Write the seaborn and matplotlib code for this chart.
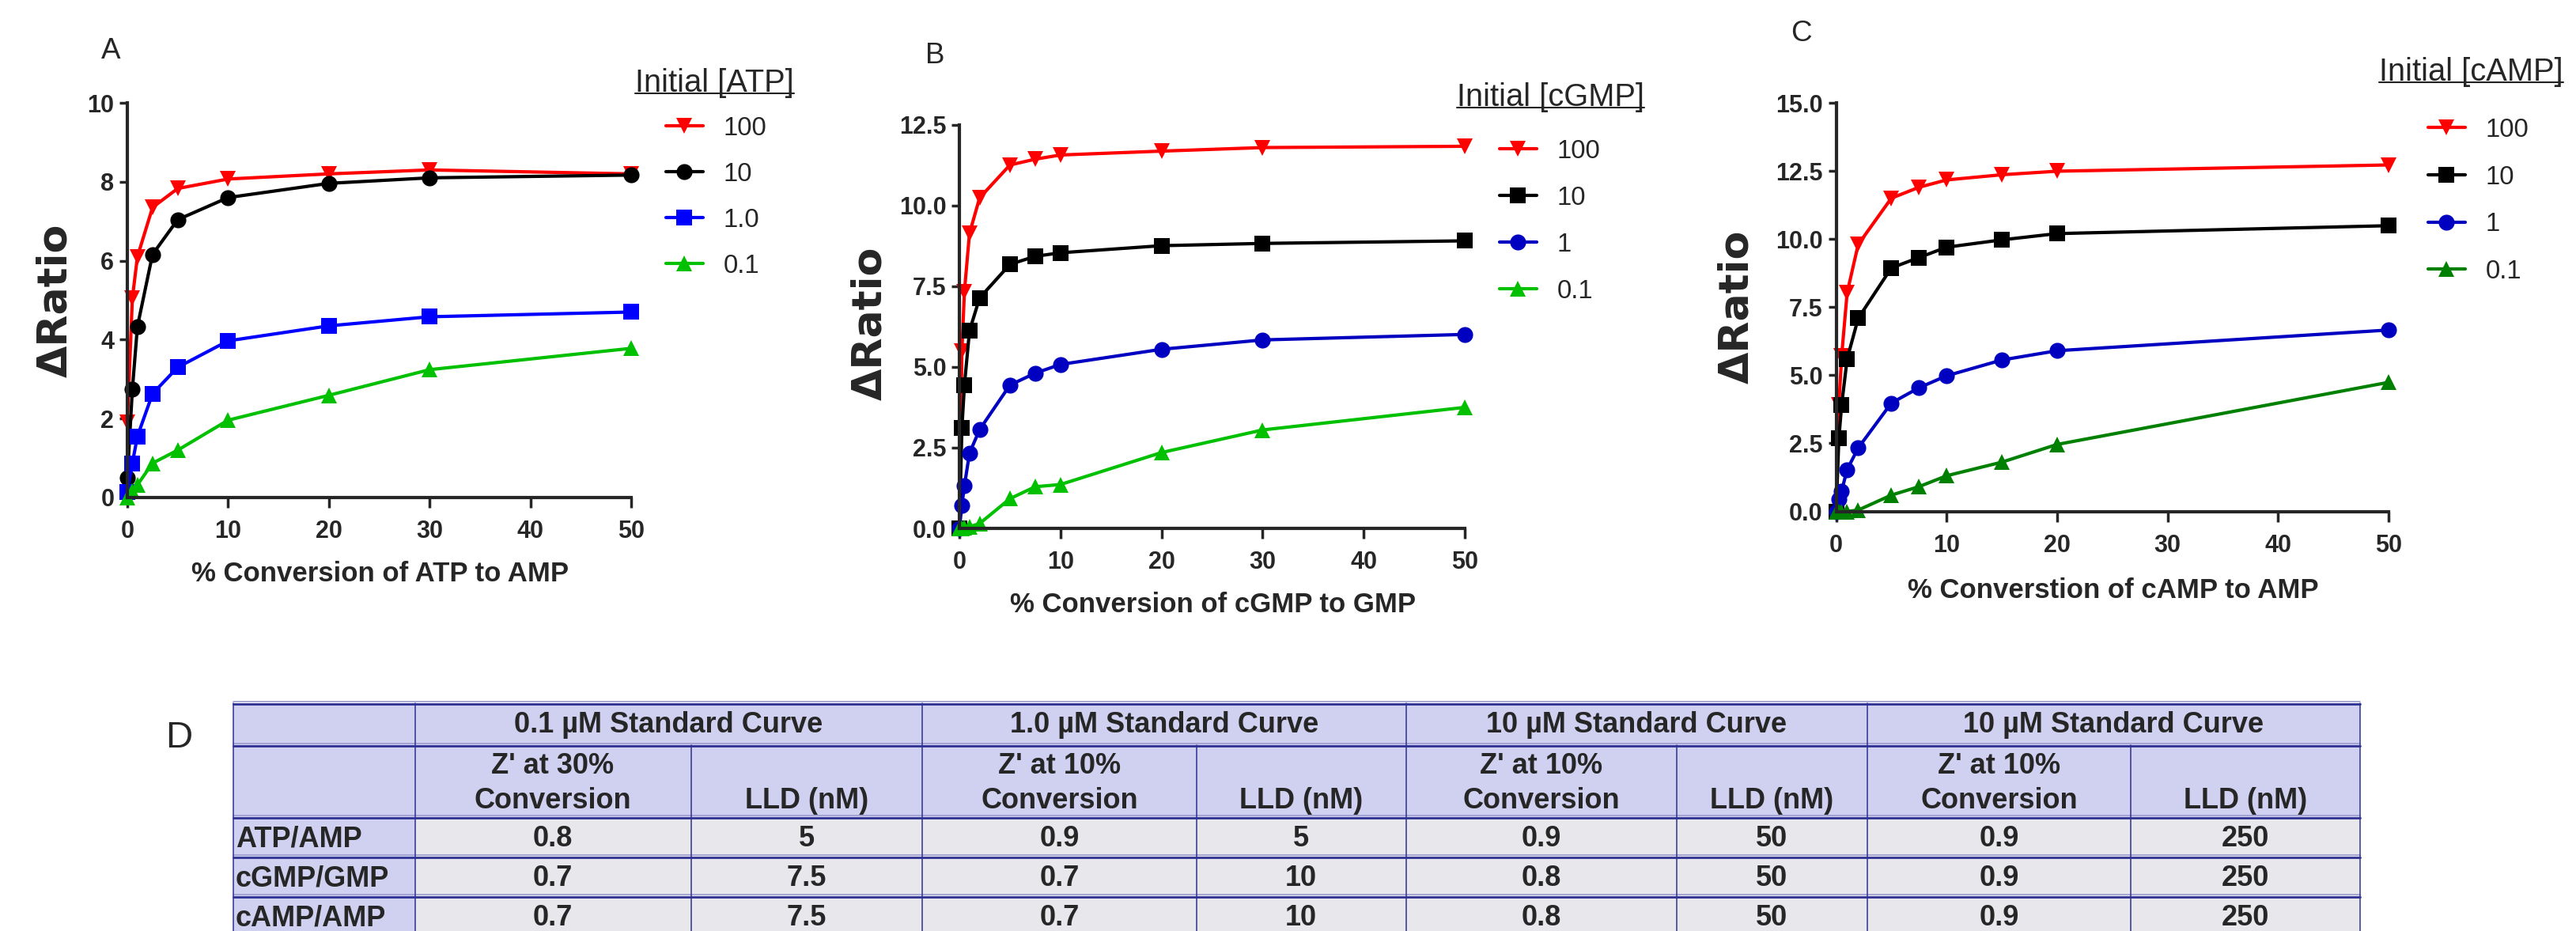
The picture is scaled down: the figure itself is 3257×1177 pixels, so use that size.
"""
Dose-response of Delta Ratio vs % conversion for ATP, cGMP and cAMP
with a summary table of Z' and LLD values.
"""

import numpy as np
import pandas as pd
import matplotlib.pyplot as plt
import seaborn as sns
from matplotlib.lines import Line2D
from matplotlib.patches import Rectangle

W, H = 3257, 1177

# ---- Panel A: ATP -> AMP ----
x_atp = [0, 0.5, 1, 2.5, 5, 10, 20, 30, 50]
atp_100 = [1.9, 5.05, 6.1, 7.35, 7.83, 8.07, 8.2, 8.3, 8.2]
atp_10 = [0.5, 2.74, 4.33, 6.16, 7.04, 7.6, 7.96, 8.1, 8.17]
atp_1 = [0.15, 0.87, 1.55, 2.63, 3.3, 3.97, 4.35, 4.58, 4.7]
atp_01 = [0, 0.17, 0.32, 0.87, 1.2, 1.96, 2.59, 3.24, 3.78]
atp_labels = ['100', '10', '1.0', '0.1']

# ---- Panel B: cGMP -> GMP ----
x_cgmp = [0, 0.25, 0.5, 1, 2, 5, 7.5, 10, 20, 30, 50]
cgmp_100 = [0, 5.5, 7.34, 9.14, 10.24, 11.26, 11.44, 11.57, 11.69, 11.8, 11.84]
cgmp_10 = [0, 3.11, 4.44, 6.12, 7.14, 8.18, 8.43, 8.54, 8.76, 8.83, 8.91]
cgmp_1 = [0, 0.72, 1.32, 2.33, 3.06, 4.44, 4.81, 5.08, 5.55, 5.84, 6.01]
cgmp_01 = [0, 0, 0.02, 0.05, 0.15, 0.92, 1.29, 1.36, 2.35, 3.05, 3.75]
cgmp_labels = ['100', '10', '1', '0.1']

# ---- Panel C: cAMP -> AMP ----
x_camp = [0, 0.25, 0.5, 1, 2, 5, 7.5, 10, 15, 20, 50]
camp_100 = [0, 3.9, 5.7, 8.03, 9.8, 11.5, 11.9, 12.17, 12.36, 12.49, 12.72]
camp_10 = [0, 2.69, 3.9, 5.6, 7.09, 8.94, 9.32, 9.7, 9.97, 10.2, 10.49]
camp_1 = [0, 0.45, 0.75, 1.54, 2.33, 3.98, 4.54, 4.98, 5.56, 5.9, 6.66]
camp_01 = [0, 0, 0, 0, 0.05, 0.6, 0.91, 1.31, 1.81, 2.46, 4.74]
camp_labels = ['100', '10', '1', '0.1']

# ---- Panel D: table ----
group_headers = ['0.1 \u00b5M Standard Curve', '1.0 \u00b5M Standard Curve',
                 '10 \u00b5M Standard Curve', '10 \u00b5M Standard Curve']
sub_headers = ["Z' at 30%\nConversion", 'LLD (nM)', "Z' at 10%\nConversion", 'LLD (nM)',
               "Z' at 10%\nConversion", 'LLD (nM)', "Z' at 10%\nConversion", 'LLD (nM)']
row_labels = ['ATP/AMP', 'cGMP/GMP', 'cAMP/AMP']
table_values = [
    ['0.8', '5', '0.9', '5', '0.9', '50', '0.9', '250'],
    ['0.7', '7.5', '0.7', '10', '0.8', '50', '0.9', '250'],
    ['0.7', '7.5', '0.7', '10', '0.8', '50', '0.9', '250'],
]

# Styling
sns.set_theme(style='ticks')
SANS = ['Liberation Sans', 'DejaVu Sans']
plt.rcParams['font.family'] = SANS

fig = plt.figure(figsize=(W / 100, H / 100), dpi=100)

# table axes drawn in pixel coordinates
ax_t = fig.add_axes([0, 0, 1, 1])
ax_t.set_xlim(0, W)
ax_t.set_ylim(H, 0)
ax_t.axis('off')


def px_axes(x0, x1, y_top, y_bot):
    return fig.add_axes([x0 / W, 1 - y_bot / H, (x1 - x0) / W, (y_bot - y_top) / H])


MSIZE = {'v': 15, '^': 15, 'o': 14.5, 's': 14}

panels = [
    dict(box=(161, 798, 130, 629), x=x_atp, ys=[atp_100, atp_10, atp_1, atp_01],
         labels=atp_labels, colors=['#FF0000', '#000000', '#0000FF', '#00C000'],
         markers=['v', 'o', 's', '^'], ymax=10, ystep=2, yfmt='{:.0f}',
         xlabel='% Conversion of ATP to AMP', ylab_xy=(-0.143, 0.5), xlab_xy=(0.502, -0.194),
         title='Initial [ATP]', title_xy=(803, 116), leg_xy=(842, 147), leg_sp=0.82,
         letter='A', letter_xy=(140, 65)),
    dict(box=(1213, 1852, 158, 668), x=x_cgmp, ys=[cgmp_100, cgmp_10, cgmp_1, cgmp_01],
         labels=cgmp_labels, colors=['#FF0000', '#000000', '#0000C0', '#00C000'],
         markers=['v', 's', 'o', '^'], ymax=12.5, ystep=2.5, yfmt='{:.1f}',
         xlabel='% Conversion of cGMP to GMP', ylab_xy=(-0.177, 0.508), xlab_xy=(0.502, -0.19),
         title='Initial [cGMP]', title_xy=(1842, 134), leg_xy=(1896, 176), leg_sp=0.85,
         letter='B', letter_xy=(1182, 70)),
    dict(box=(2321.5, 3020, 130, 646.6), x=x_camp, ys=[camp_100, camp_10, camp_1, camp_01],
         labels=camp_labels, colors=['#FF0000', '#000000', '#0000C0', '#008000'],
         markers=['v', 's', 'o', '^'], ymax=15, ystep=2.5, yfmt='{:.1f}',
         xlabel='% Converstion of cAMP to AMP', ylab_xy=(-0.18, 0.5), xlab_xy=(0.502, -0.194),
         title='Initial [cAMP]', title_xy=(3008, 102), leg_xy=(3070, 149), leg_sp=0.87,
         letter='C', letter_xy=(2277, 42)),
]

title_texts = []
for p in panels:
    ax = px_axes(*p['box'])
    for ys, lab, c, m in zip(p['ys'], p['labels'], p['colors'], p['markers']):
        df = pd.DataFrame({'x': p['x'], 'y': ys})
        sns.lineplot(data=df, x='x', y='y', ax=ax, color=c, marker=m, markersize=MSIZE[m],
                     linewidth=3, markeredgecolor=c, markeredgewidth=0, label=lab,
                     errorbar=None, clip_on=False)
    ax.set_xlim(0, 50)
    ax.set_ylim(0, p['ymax'])
    ax.set_xticks([0, 10, 20, 30, 40, 50])
    yt = np.arange(0, p['ymax'] + 0.001, p['ystep'])
    ax.set_yticks(yt)
    ax.set_yticklabels([p['yfmt'].format(v) for v in yt])
    sns.despine(ax=ax)
    for s in ['left', 'bottom']:
        ax.spines[s].set_linewidth(3)
    ax.tick_params(axis='x', length=9, width=2.5, pad=11.5, labelsize=22)
    ax.tick_params(axis='y', length=7, width=2.5, pad=5, labelsize=22)
    for lab in ax.get_xticklabels() + ax.get_yticklabels():
        lab.set_fontweight('bold')
    ax.set_ylabel('\u0394Ratio', fontsize=37.5, fontweight='bold', family='DejaVu Sans',
                  va='center')
    ax.yaxis.set_label_coords(*p['ylab_xy'])
    ax.set_xlabel(p['xlabel'], fontsize=25, fontweight='bold', va='center')
    ax.xaxis.set_label_coords(*p['xlab_xy'])
    ax.set_facecolor('none')

    lx, ly = p['leg_xy']
    ax.legend(loc='upper left', bbox_to_anchor=(lx / W, 1 - ly / H), bbox_transform=fig.transFigure,
              frameon=False, fontsize=23.7, handlelength=1.42, handletextpad=0.78,
              labelspacing=p['leg_sp'], borderpad=0, borderaxespad=0)

    tx, ty = p['title_xy']
    t = fig.text(tx / W, 1 - ty / H, p['title'], fontsize=28.7, va='baseline', ha='left')
    title_texts.append((t, ty))

    lx, ly = p['letter_xy']
    fig.text(lx / W, 1 - ly / H, p['letter'], fontsize=26.5, ha='center', va='center')

fig.text(226.5 / W, 1 - 933 / H, 'D', fontsize=34, ha='center', va='center')

# underline the legend titles
fig.canvas.draw()
for t, ty in title_texts:
    bb = t.get_window_extent()
    yy = 1 - (ty + 2) / H
    fig.add_artist(Line2D([bb.x0 / W, bb.x1 / W], [yy, yy], color='#222222', lw=1.5,
                          transform=fig.transFigure))

# ---- table ----
col_x = [295, 524.5, 873.5, 1166, 1513, 1777.5, 2120, 2361, 2694, 2984]
row_y = [889, 942, 1033, 1083, 1133, 1183]
LAV = '#D0D0F0'
GRAY = '#E7E7EC'
NAVY = '#2E3192'

ax_t.add_patch(Rectangle((col_x[0], row_y[0]), col_x[-1] - col_x[0], row_y[2] - row_y[0],
                         facecolor=LAV, edgecolor='none'))
ax_t.add_patch(Rectangle((col_x[0], row_y[2]), col_x[1] - col_x[0], row_y[-1] - row_y[2],
                         facecolor=LAV, edgecolor='none'))
ax_t.add_patch(Rectangle((col_x[1], row_y[2]), col_x[-1] - col_x[1], row_y[-1] - row_y[2],
                         facecolor=GRAY, edgecolor='none'))

for y in row_y[:-1]:
    ax_t.plot([col_x[0], col_x[-1]], [y - 2, y - 2], color='#9A9ACF', lw=1.2)
    ax_t.plot([col_x[0], col_x[-1]], [y + 0.5, y + 0.5], color=NAVY, lw=2)
for i, x in enumerate(col_x):
    top = row_y[0] if i in (0, 1, 3, 5, 7, 9) else row_y[1]
    ax_t.plot([x, x], [top, row_y[-1]], color=NAVY, lw=1.1)

tkw = dict(fontsize=26, fontweight='bold')
for g, name in enumerate(group_headers):
    xc = (col_x[1 + 2 * g] + col_x[3 + 2 * g]) / 2
    ax_t.text(xc, (row_y[0] + row_y[1]) / 2 + 1, name, ha='center', va='center', **tkw)
for j, name in enumerate(sub_headers):
    xc = (col_x[1 + j] + col_x[2 + j]) / 2
    if '\n' in name:
        l1, l2 = name.split('\n')
        ax_t.text(xc, 968, l1, ha='center', va='center', **tkw)
        ax_t.text(xc, 1012, l2, ha='center', va='center', **tkw)
    else:
        ax_t.text(xc, 1012, name, ha='center', va='center', **tkw)
for i, lab in enumerate(row_labels):
    yc = (row_y[2 + i] + row_y[3 + i]) / 2 + 3
    ax_t.text(col_x[0] + 3, yc, lab, ha='left', va='center', **tkw)
    for j, v in enumerate(table_values[i]):
        xc = (col_x[1 + j] + col_x[2 + j]) / 2
        ax_t.text(xc, yc, v, ha='center', va='center', **tkw)

fig.savefig('out.png', dpi=100)
